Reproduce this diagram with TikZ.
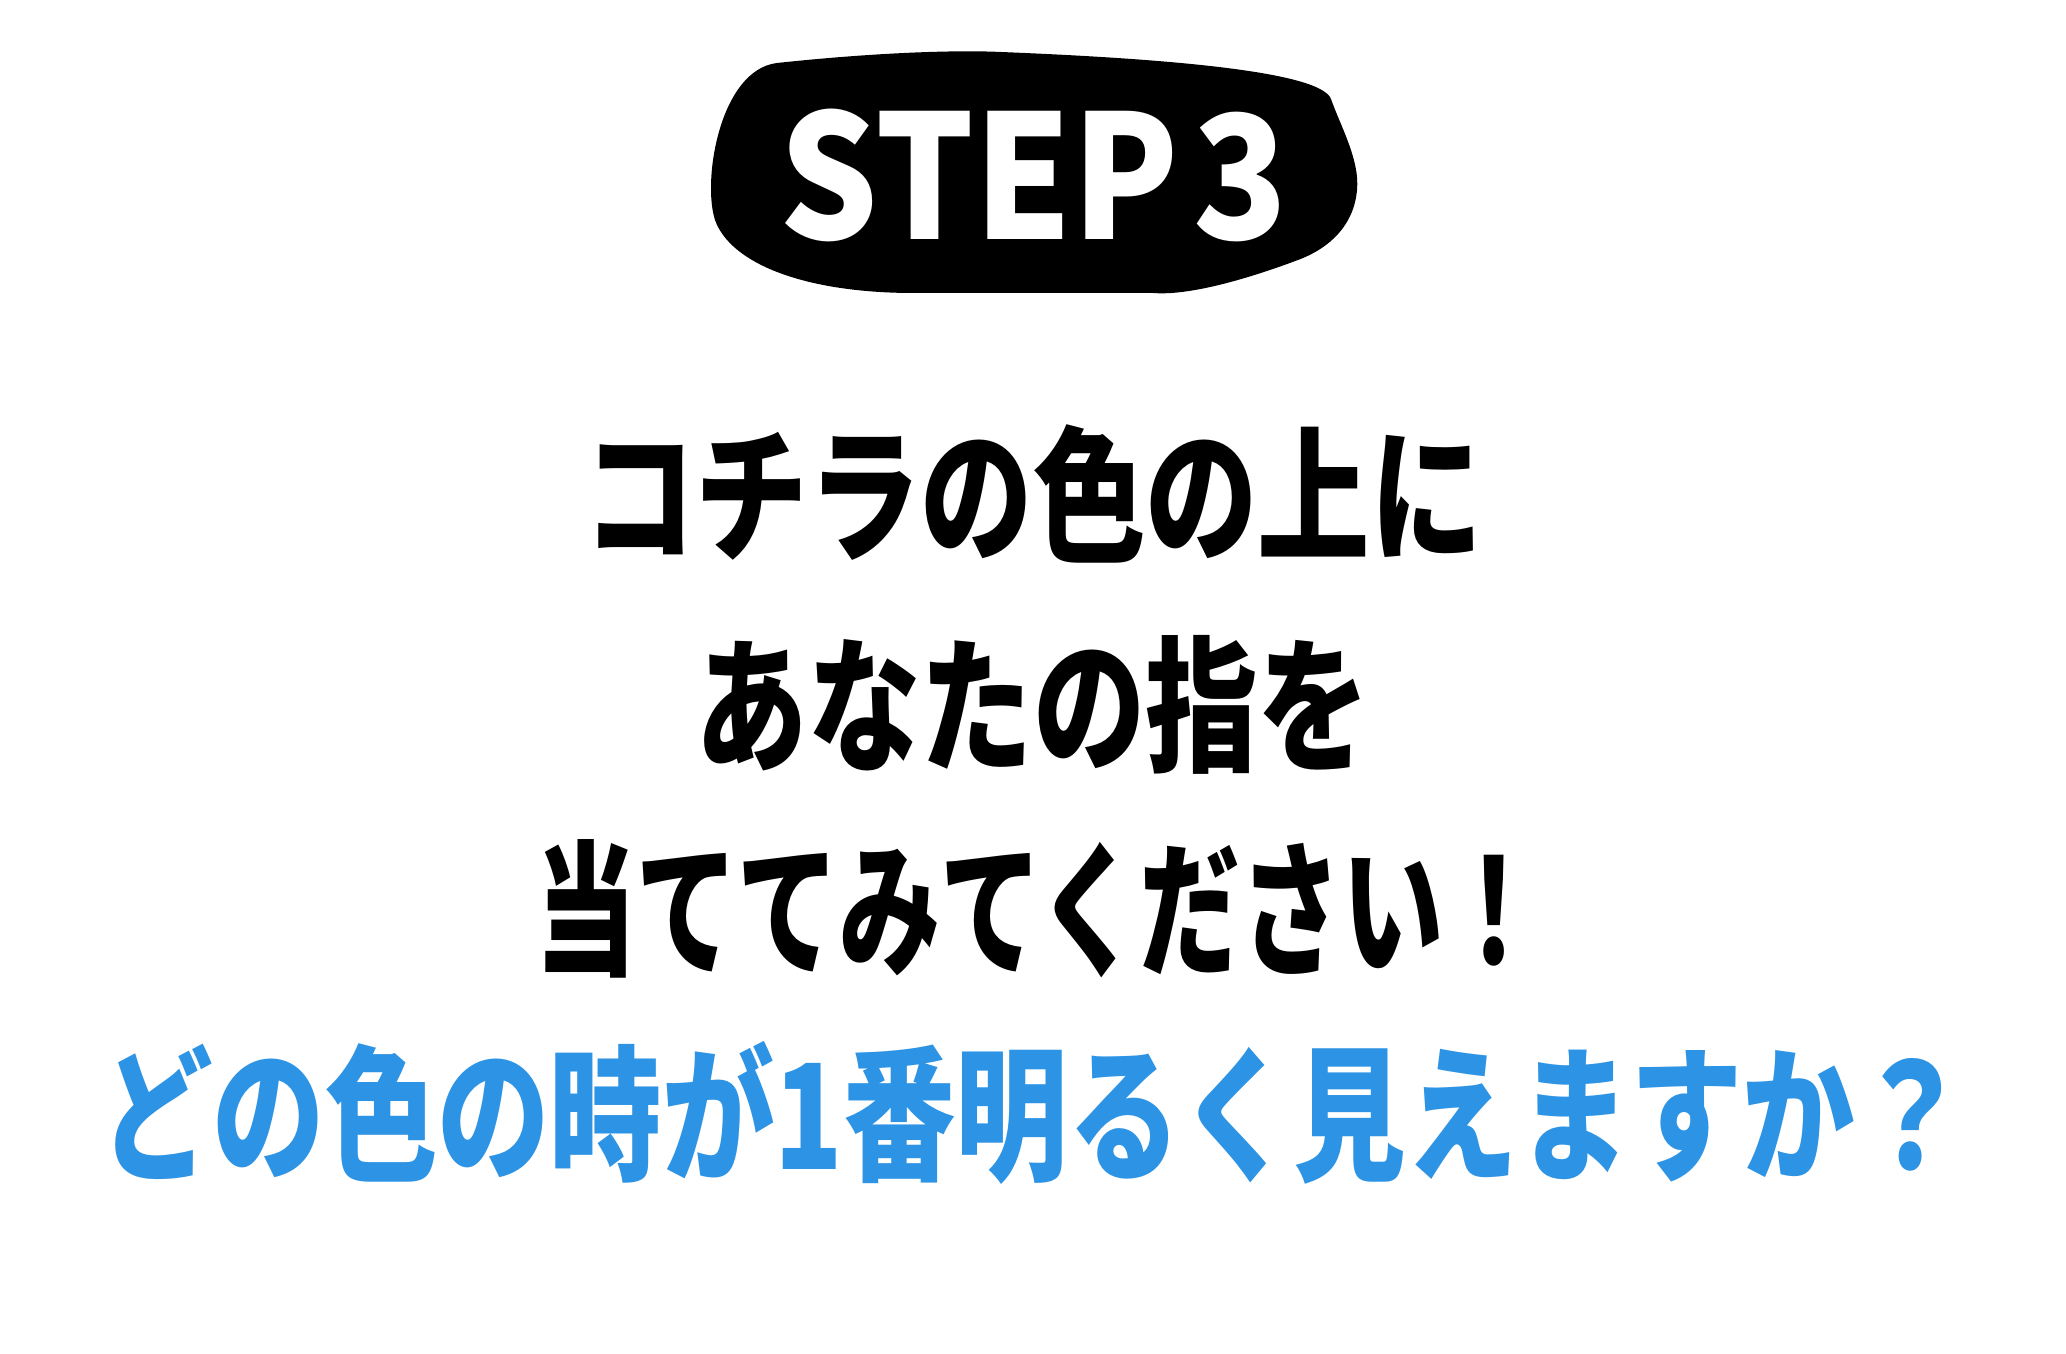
\documentclass[tikz,border=0pt]{standalone}
\usepackage{fontspec}
\newfontfamily\cjk{Noto Sans CJK JP}[BoldFont={Noto Sans CJK JP Black}]
\definecolor{stepblue}{HTML}{2C93E5}
\tikzset{
  msg/.style={font=\cjk\bfseries\fontsize{64}{64}\selectfont, inner sep=0pt,
    yscale=1.3, transform shape},
}
\begin{document}
\begin{tikzpicture}[x=0.02cm, y=-0.02cm]
      \useasboundingbox[fill=white] (0,0) rectangle (2066,1354);
      % badge
      \fill[black] (777,63) .. controls (880,52) and (960,50) .. (1001,52)
        .. controls (1150,58) and (1320,70) .. (1331,99)
        .. controls (1340,125) and (1360,160) .. (1357,190)
        .. controls (1354,225) and (1330,248) .. (1298,260)
        .. controls (1250,278) and (1190,296) .. (1153,293)
        -- (909,293)
        .. controls (800,292) and (730,262) .. (715,220)
        .. controls (702,180) and (720,70) .. (777,63) -- cycle;
      \node[font=\cjk\bfseries\fontsize{98}{98}\selectfont, text=white,
        inner sep=0pt, xscale=0.9, transform shape] (step) at (1034,175) {STEP\kern0.1em3};
      % message
      \node[msg] (line1) at (1033,494) {コチラの色の上に};
      \node[msg] (line2) at (1033,705) {あなたの指を};
      \node[msg, xscale=0.9] (line3) at (1040,909) {当ててみてください！};
      \node[msg, text=stepblue] (line4) at (1034,1113) {どの色の時が1番明るく見えますか？};
\end{tikzpicture}
\end{document}
